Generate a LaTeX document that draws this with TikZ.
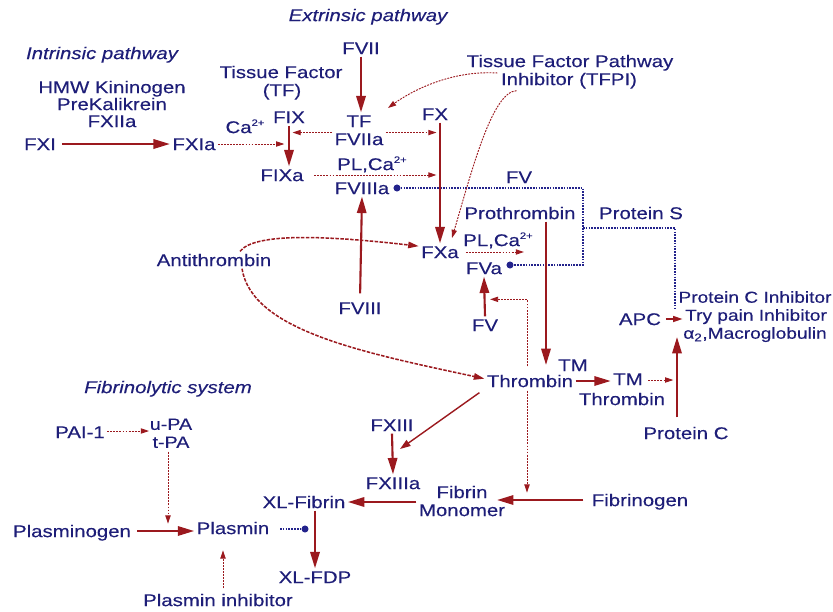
\documentclass[tikz,border=0pt]{standalone}
\usepackage{fontspec}
\setmainfont{Liberation Sans}[FakeStretch=1.2,FakeBold=0.3]
\usetikzlibrary{arrows.meta,calc}
\definecolor{txtblue}{RGB}{30,30,120}
\definecolor{arrred}{RGB}{155,25,30}
\definecolor{dotblue}{RGB}{35,35,140}
\newcommand{\chg}{\raisebox{0.42em}{\fontsize{8pt}{8pt}\selectfont 2+}}
\begin{document}
\begin{tikzpicture}[x=0.03cm,y=-0.03cm,
  lbl/.style={text=txtblue, font=\fontsize{14.5pt}{16pt}\selectfont, inner sep=2pt, text height=10.4pt, text depth=0pt},
  ital/.style={lbl, font=\fontsize{14.5pt}{16pt}\selectfont\itshape},
  smlbl/.style={lbl, font=\fontsize{13.6pt}{15pt}\selectfont, text height=9.8pt},
  tight/.style={lbl, font=\fontsize{14pt}{15pt}\selectfont, inner sep=0.5pt, text height=10pt},
  conv/.style={draw=arrred, line width=1.8pt, -{Triangle[length=14pt,width=8pt]}},
  convthin/.style={draw=arrred, line width=1.2pt, -{Triangle[length=9pt,width=6pt]}},
  convshort/.style={draw=arrred, line width=1.4pt, -{Triangle[length=8pt,width=5pt]}},
  act/.style={draw=arrred, line width=0.8pt, dash pattern=on 1.6pt off 1pt, -{Triangle[length=7pt,width=4.5pt]}},
  anti/.style={draw=arrred, line width=1.3pt, dash pattern=on 3pt off 1.2pt, -{Triangle[length=9pt,width=5.5pt]}},
  bdot/.style={draw=dotblue, line width=1.1pt, dash pattern=on 1.4pt off 1pt},
  enddot/.style={circle, fill=dotblue, inner sep=0pt, minimum size=6pt},
]
\useasboundingbox (0,0) rectangle (833,612);

% ---- labels ----
\node[ital] (intr) at (102,53) {Intrinsic pathway};
\node[ital] (extr) at (368,15) {Extrinsic pathway};
\node[ital] (fibsys) at (168,387) {Fibrinolytic system};
\node[lbl] (hmw) at (112,87) {HMW Kininogen};
\node[lbl] (prek) at (112,104) {PreKalikrein};
\node[lbl] (fxiia) at (112,121) {FXIIa};
\node[lbl] (fxi) at (40,144) {FXI};
\node[lbl] (fxia) at (194,144) {FXIa};
\node[lbl] (ca) at (245,127) {Ca\chg};
\node[lbl] (tf1) at (281,72) {Tissue Factor};
\node[lbl] (tf2) at (282,90) {(TF)};
\node[lbl] (fvii) at (361,48) {FVII};
\node[lbl] (tfpi1) at (570,61) {Tissue Factor Pathway};
\node[lbl] (tfpi2) at (569,79) {Inhibitor (TFPI)};
\node[lbl] (fix) at (289,117) {FIX};
\node[lbl] (tf) at (359,121) {TF};
\node[lbl] (fviia) at (359,139) {FVIIa};
\node[lbl] (fx) at (435,114) {FX};
\node[lbl] (fixa) at (282,175) {FIXa};
\node[lbl] (plca1) at (372,164) {PL,Ca\chg};
\node[lbl] (fviiia) at (362,188) {FVIIIa};
\node[lbl] (fv1) at (519,177) {FV};
\node[lbl] (prothr) at (520,213) {Prothrombin};
\node[lbl] (prots) at (641,213) {Protein S};
\node[lbl] (antithr) at (214,260) {Antithrombin};
\node[lbl] (fxa) at (440,252) {FXa};
\node[lbl] (plca2) at (498,240) {PL,Ca\chg};
\node[lbl] (fva) at (484,268) {FVa};
\node[lbl] (fviii) at (360,308) {FVIII};
\node[lbl] (fv2) at (485,325) {FV};
\node[lbl] (apc) at (640,319) {APC};
\node[smlbl] (pci) at (755,297) {Protein C Inhibitor};
\node[smlbl] (tpi) at (756,315) {Try pain Inhibitor};
\node[smlbl] (a2m) at (755,333) {α\textsubscript{2},Macroglobulin};
\node[lbl] (thr) at (530,381) {Thrombin};
\node[lbl] (tm1) at (573,365) {TM};
\node[lbl] (tm2) at (628,379) {TM};
\node[lbl] (thr2) at (622,399) {Thrombin};
\node[lbl] (protc) at (686,433) {Protein C};
\node[lbl] (fxiii) at (392,425) {FXIII};
\node[lbl] (fxiiia) at (393,483) {FXIIIa};
\node[lbl] (fibrin) at (462,492) {Fibrin};
\node[lbl] (monomer) at (462,510) {Monomer};
\node[lbl] (fibrinogen) at (640,500) {Fibrinogen};
\node[lbl] (pai) at (80,432) {PAI-1};
\node[tight] (upa) at (171,424) {u-PA};
\node[tight] (tpa) at (171,442) {t-PA};
\node[lbl] (plasminogen) at (72,531) {Plasminogen};
\node[lbl] (plasmin) at (233,528) {Plasmin};
\node[lbl] (xlfib) at (304,502) {XL-Fibrin};
\node[lbl] (xlfdp) at (315,577) {XL-FDP};
\node[lbl] (plinh) at (218,600) {Plasmin inhibitor};

% ---- dots and corners ----
\node[enddot] (d1) at (397,188) {};
\node[enddot] (d2) at (510,265) {};
\node[enddot] (d3) at (305,529) {};
\coordinate (c1) at (583,188);
\coordinate (c2) at (583,265);
\coordinate (c3) at (583,228);
\coordinate (c4) at (675,228);
\coordinate (c5) at (675,308);
\coordinate (pcol) at (546,222);
\coordinate (pce) at (677,337);
\coordinate (xt) at (400,449);
\coordinate (tfin) at (388,108);
\coordinate (fxin) at (452,238);

% ---- blue dotted inhibition lines ----
\draw[bdot] (d1) -- (c1) -- (c2) -- (d2);
\draw[bdot] (c3) -- (c4) -- (c5);
\draw[bdot, shorten <=7pt] (plasmin.east |- d3) -- (d3);

% ---- solid conversion arrows ----
\draw[conv, shorten <=3pt] (fxi.east) -- (fxia.west);
\draw[conv] (fvii.south) -- (fvii.south |- tf.north);
\draw[conv] (fix.south) -- (fix.south |- fixa.north);
\draw[conv] (fxa.north |- fx.south) -- (fxa.north);
\draw[conv, shorten <=5pt] (fviii.north) -- (fviiia.south);
\draw[conv] (prothr.south -| pcol) -- (pcol |- tm1.center);
\draw[conv] (fv2.north) -- (fva.south);
\draw[conv] (thr.east) -- (thr.east -| tm2.west);
\draw[conv, shorten <=6pt] (protc.north -| pce) -- (pce);
\draw[convshort, shorten <=2pt] (apc.east) -- (apc.east -| tpi.west);
\draw[conv, shorten <=3pt] (plasminogen.east) -- (plasminogen.east -| plasmin.west);
\draw[conv] (xlfdp.north |- xlfib.south) -- (xlfdp.north);
\draw[conv, shorten <=5pt, shorten >=-9pt] (fibrinogen.west) -- (fibrinogen.west -| monomer.east);
\draw[conv] (monomer.west |- xlfib.east) -- (xlfib.east);
\draw[conv] (fxiii.south) -- (fxiiia.north);
\draw[convthin] (thr.south west) ++(-5,3) -- (xt);

% ---- dotted activation arrows ----
\draw[act, shorten >=4pt] (fxia.east) -- (fxia.east -| fix.south);
\draw[act, shorten >=3pt] ([yshift=5.5pt]fviia.west) -- ([yshift=5.5pt]fviia.west -| fix.south);
\draw[act, shorten >=3pt] ([yshift=5.5pt]fviia.east) -- ([yshift=5.5pt]fviia.east -| fxa.north);
\draw[act, shorten <=7pt, shorten >=3pt] (fixa.east) -- (fixa.east -| fxa.north);
\draw[act] ([xshift=4pt]fxa.east) -- ++(58,0);
\draw[act] (thr.north) ++(-3,-6) -- ++(0,-67) -- ++(-37,0);
\draw[act] (thr.south) ++(-3,1) -- ++(0,102);
\draw[act] (pai.east) ++(0,-1) -- (upa.west |- 0,431);
\draw[act] (tpa.south) ++(-3,3) -- ++(0,72);
\draw[act] (plinh.north) ++(5,-3) -- ++(0,-38);
\draw[act] (tm2.east) ++(3,1) -- ++(25,0);
\draw[act] (tfpi2.west) ++(-1,-6) .. controls (450,70) and (410,92) .. (tfin);
\draw[act] (tfpi2.south west) ++(18,3) .. controls (492,92) and (472,170) .. (fxin);

% ---- antithrombin ----
\draw[anti] (antithr.north) ++(26,0) .. controls (255,232) and (330,236) .. ([yshift=5pt]fxa.west);
\draw[anti] (antithr.south) ++(28,0) .. controls (252,330) and (360,352) .. ([yshift=2pt]thr.west);
\end{tikzpicture}
\end{document}
